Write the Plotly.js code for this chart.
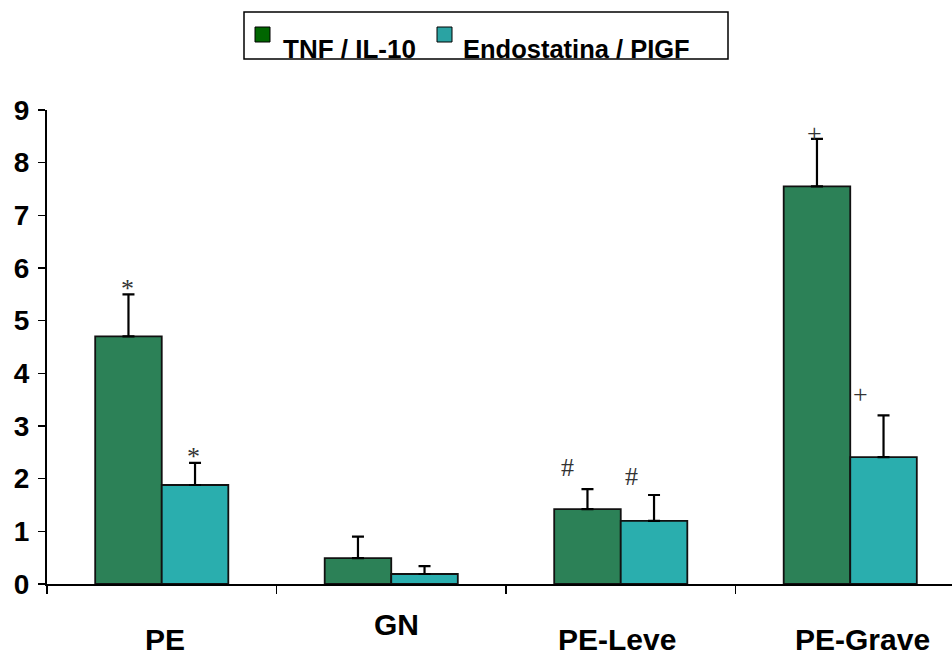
<!DOCTYPE html>
<html>
<head>
<meta charset="utf-8">
<script src="https://cdn.plot.ly/plotly-3.0.1.min.js"></script>
<style>html,body{margin:0;padding:0;background:#fff;}#chart{width:952px;height:657px;}</style>
</head>
<body>
<div id="chart"></div>
<script>
// ---- data ----
const categories = ['PE', 'GN', 'PE-Leve', 'PE-Grave'];
const tnfIl10 = [4.7, 0.49, 1.42, 7.55];
const tnfIl10Err = [0.8, 0.41, 0.38, 0.9];
const endoPlgf = [1.88, 0.19, 1.2, 2.41];
const endoPlgfErr = [0.42, 0.15, 0.49, 0.79];
const seriesNames = ['TNF / IL-10', 'Endostatina / PIGF'];
const yTicks = [0, 1, 2, 3, 4, 5, 6, 7, 8, 9];

// significance marks
const sigText = ['*', '*', '#', '#', '+', '+'];
const sigCat = ['PE', 'PE', 'PE-Leve', 'PE-Leve', 'PE-Grave', 'PE-Grave'];
const sigY = [5.62, 2.43, 2.22, 2.05, 8.56, 3.59];
const sigShift = [-34, 32, -53, 11, -36, 10];

// category label placement (GN sits higher in original)
const labelShiftY = [0, 15, 0, 0];
const labelShiftX = [3, 5, -4, 12];

// ---- styles ----
const tnfColor = '#2c8157';
const endoColor = '#2aaeae';
const tnfSwatch = '#006600';
const endoSwatch = '#2aa3a3';

const traces = [
  {
    type: 'bar', x: categories, y: tnfIl10, name: seriesNames[0],
    marker: {color: tnfColor, line: {color: '#111', width: 1.8}},
    error_y: {type: 'data', array: tnfIl10Err, visible: true, color: '#000', thickness: 2.2, width: 6, symmetric: false, arrayminus: [0,0,0,0]}
  },
  {
    type: 'bar', x: categories, y: endoPlgf, name: seriesNames[1],
    marker: {color: endoColor, line: {color: '#111', width: 1.8}},
    error_y: {type: 'data', array: endoPlgfErr, visible: true, color: '#000', thickness: 2.2, width: 6, symmetric: false, arrayminus: [0,0,0,0]}
  }
];

const W = 952, H = 657, mL = 47, mR = 0, mT = 110, mB = 73;
const pw = W - mL - mR, ph = H - mT - mB;
const catW = 229.5;
const px2x = p => (p - mL) / pw;
const px2y = p => (H - mB - p) / ph;

const annotations = [];
sigText.forEach((t, i) => {
  annotations.push({
    x: sigCat[i], y: sigY[i], xref: 'x', yref: 'y', text: t, showarrow: false,
    xshift: sigShift[i], xanchor: 'center', yanchor: 'middle',
    font: {family: 'Liberation Serif, Times New Roman, serif', size: 26, color: '#333'}
  });
});
categories.forEach((c, i) => {
  annotations.push({
    x: c, y: px2y(657), xref: 'x', yref: 'paper', text: c, showarrow: false,
    xshift: labelShiftX[i], yshift: labelShiftY[i], xanchor: 'center', yanchor: 'bottom', borderpad: 0,
    font: {family: 'Liberation Sans, Arial, sans-serif', size: 30, color: '#000', weight: 'bold'}
  });
});
// legend texts
annotations.push({
  x: px2x(281), y: px2y(49), xref: 'paper', yref: 'paper', text: seriesNames[0], showarrow: false,
  xanchor: 'left', yanchor: 'middle',
  font: {family: 'Liberation Sans, Arial, sans-serif', size: 26, color: '#000', weight: 'bold'}
});
annotations.push({
  x: px2x(461), y: px2y(49), xref: 'paper', yref: 'paper', text: seriesNames[1], showarrow: false,
  xanchor: 'left', yanchor: 'middle',
  font: {family: 'Liberation Sans, Arial, sans-serif', size: 25.5, color: '#000', weight: 'bold'}
});

const shapes = [
  {type: 'rect', xref: 'paper', yref: 'paper', x0: px2x(244), x1: px2x(728), y0: px2y(59), y1: px2y(12),
   line: {color: '#000', width: 1.5}, fillcolor: 'rgba(0,0,0,0)'},
  {type: 'rect', xref: 'paper', yref: 'paper', x0: px2x(255), x1: px2x(270), y0: px2y(42), y1: px2y(27),
   line: {color: '#000', width: 1}, fillcolor: tnfSwatch},
  {type: 'rect', xref: 'paper', yref: 'paper', x0: px2x(437), x1: px2x(452), y0: px2y(42), y1: px2y(27),
   line: {color: '#000', width: 1}, fillcolor: endoSwatch}
];

const layout = {
  width: W, height: H,
  margin: {l: mL, r: mR, t: mT, b: mB, pad: 0},
  paper_bgcolor: '#fff', plot_bgcolor: '#fff',
  showlegend: false,
  barmode: 'group', bargap: 0.42, bargroupgap: 0,
  xaxis: {
    type: 'category', range: [-0.5, -0.5 + pw / catW], showticklabels: false,
    showline: true, linecolor: '#000', linewidth: 2,
    ticks: 'outside', tickson: 'boundaries', ticklen: 8, tickwidth: 1.5, tickcolor: '#000',
    showgrid: false, zeroline: false, fixedrange: true
  },
  yaxis: {
    range: [0, 9], tickvals: yTicks, ticktext: yTicks.map(String),
    showline: true, linecolor: '#000', linewidth: 2,
    ticks: 'outside', ticklen: 7, tickwidth: 1.5, tickcolor: '#000',
    showgrid: false, zeroline: false, ticklabelstandoff: 3,
    tickfont: {family: 'Liberation Sans, Arial, sans-serif', size: 28, color: '#000', weight: 'bold'}
  },
  annotations: annotations,
  shapes: shapes
};

Plotly.newPlot('chart', traces, layout, {displayModeBar: false, staticPlot: true});
</script>
</body>
</html>
